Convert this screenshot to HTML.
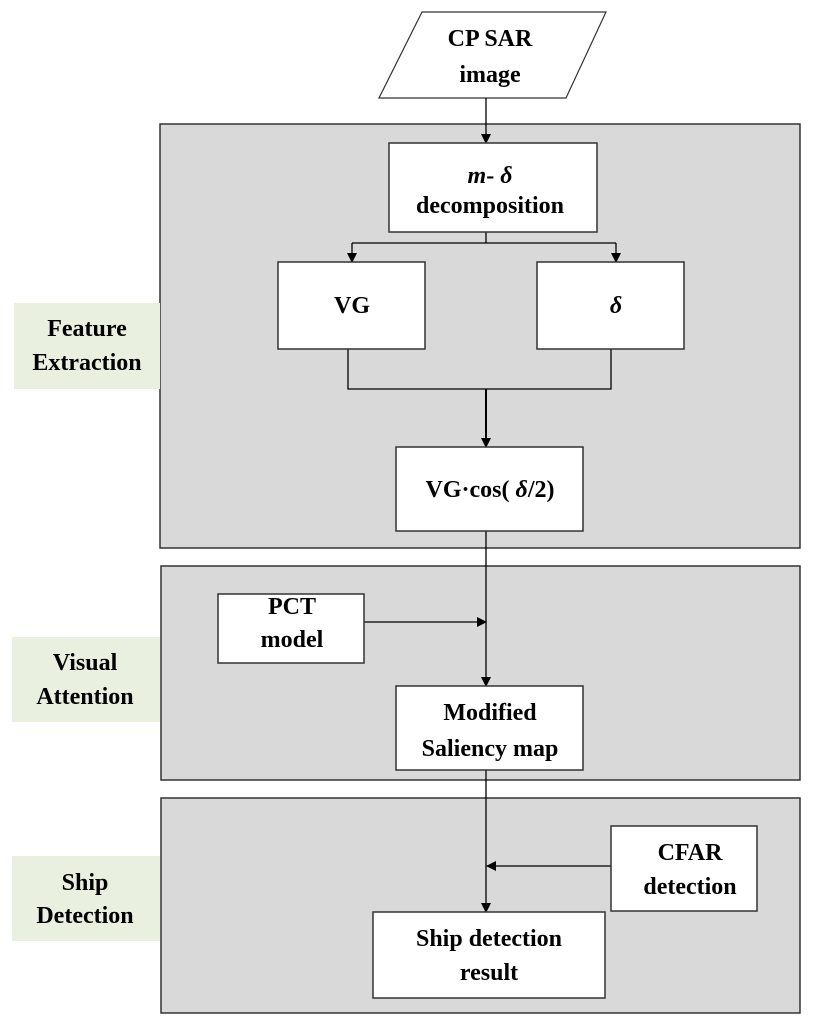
<!DOCTYPE html>
<html><head><meta charset="utf-8"><style>
body{margin:0;background:#fff;}
svg text{font-family:"Liberation Serif",serif;font-weight:bold;font-size:24px;text-anchor:middle;fill:#000;}
</style></head><body>
<svg width="813" height="1024" viewBox="0 0 813 1024" xmlns="http://www.w3.org/2000/svg">
<defs><marker id="a" markerWidth="10" markerHeight="10" refX="9" refY="5" orient="auto" markerUnits="userSpaceOnUse"><path d="M0,0 L10,5 L0,10 z" fill="#000"/></marker></defs>
<rect x="160" y="124" width="640" height="424" fill="#d9d9d9" stroke="#333" stroke-width="1.5"/>
<rect x="161" y="566" width="639" height="214" fill="#d9d9d9" stroke="#333" stroke-width="1.5"/>
<rect x="161" y="798" width="639" height="215" fill="#d9d9d9" stroke="#333" stroke-width="1.5"/>
<rect x="14" y="303" width="146" height="86" fill="#e9f0e0"/>
<rect x="12" y="637" width="148" height="85" fill="#e9f0e0"/>
<rect x="12" y="856" width="148" height="85" fill="#e9f0e0"/>
<text x="87" y="336">Feature</text><text x="87" y="370">Extraction</text>
<text x="85" y="670">Visual</text><text x="85" y="704">Attention</text>
<text x="85" y="890">Ship</text><text x="85" y="923">Detection</text>
<polygon points="422,12 606,12 566,98 379,98" fill="#fff" stroke="#333" stroke-width="1.2"/>
<text x="490" y="46">CP SAR</text><text x="490" y="82">image</text>
<g stroke="#000" stroke-width="1.3" fill="none">
<line x1="486" y1="98" x2="486" y2="143" marker-end="url(#a)"/>
<line x1="486" y1="232" x2="486" y2="243"/>
<line x1="352" y1="243" x2="616" y2="243"/>
<line x1="352" y1="243" x2="352" y2="262" marker-end="url(#a)"/>
<line x1="616" y1="243" x2="616" y2="262" marker-end="url(#a)"/>
<polyline points="348,349 348,389 611,389 611,349"/>
<line x1="486" y1="389" x2="486" y2="447" stroke-width="2" marker-end="url(#a)"/>
<line x1="486" y1="531" x2="486" y2="686" marker-end="url(#a)"/>
<line x1="364" y1="622" x2="486" y2="622" marker-end="url(#a)"/>
<line x1="486" y1="770" x2="486" y2="912" marker-end="url(#a)"/>
<line x1="611" y1="866" x2="487" y2="866" marker-end="url(#a)"/>
</g>
<g fill="#fff" stroke="#333" stroke-width="1.5">
<rect x="389" y="143" width="208" height="89"/>
<rect x="278" y="262" width="147" height="87"/>
<rect x="537" y="262" width="147" height="87"/>
<rect x="396" y="447" width="187" height="84"/>
<rect x="218" y="594" width="146" height="69"/>
<rect x="396" y="686" width="187" height="84"/>
<rect x="611" y="826" width="146" height="85"/>
<rect x="373" y="912" width="232" height="86"/>
</g>
<text x="490" y="183"><tspan font-style="italic">m</tspan>- <tspan font-style="italic">δ</tspan></text>
<text x="490" y="213">decomposition</text>
<text x="352" y="313">VG</text>
<text x="616" y="313" font-style="italic">δ</text>
<text x="490" y="497">VG·cos( <tspan font-style="italic">δ</tspan>/2)</text>
<text x="292" y="614">PCT</text>
<text x="292" y="647">model</text>
<text x="490" y="720">Modified</text><text x="490" y="756">Saliency map</text>
<text x="690" y="860">CFAR</text><text x="690" y="894">detection</text>
<text x="489" y="946">Ship detection</text><text x="489" y="980">result</text>
</svg>
</body></html>
